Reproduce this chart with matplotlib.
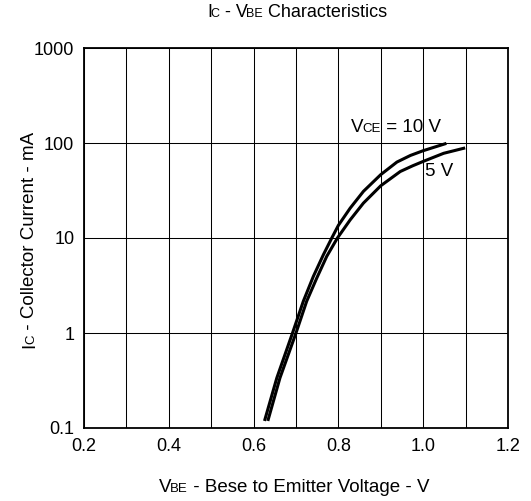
import numpy as np
import matplotlib
matplotlib.use("Agg")
import matplotlib.pyplot as plt
from matplotlib.transforms import IdentityTransform

plt.rcParams['font.family'] = ['Liberation Sans', 'DejaVu Sans']

# curves (V_BE in V, I_C in mA)
vbe_10v = [0.6267, 0.6548, 0.6918, 0.7173, 0.741, 0.7646, 0.7844, 0.8, 0.8277,
           0.8591, 0.9, 0.938, 0.97, 1.0, 1.0513]
ic_10v = [0.123, 0.337, 1.0, 2.16, 3.95, 6.67, 10.0, 13.6, 20.6, 31.0, 46.5, 63.0,
          74.0, 83.0, 98.0]
vbe_5v = [0.6345, 0.6622, 0.7, 0.7252, 0.749, 0.7725, 0.7977, 0.8277, 0.859, 0.9,
          0.9459, 0.975, 1.0, 1.0482, 1.0955]
ic_5v = [0.123, 0.337, 1.0, 2.16, 3.79, 6.41, 10.0, 15.5, 23.3, 35.5, 50.1, 57.5,
         64.0, 77.9, 88.0]

x_ticks = [0.2, 0.4, 0.6, 0.8, 1.0, 1.2]
x_grid = [0.3, 0.5, 0.7, 0.9, 1.1]
y_ticks = [0.1, 1, 10, 100, 1000]
y_labels = ['0.1', '1', '10', '100', '1000']

W, H = 531, 501
fig = plt.figure(figsize=(W / 100, H / 100), dpi=100)
ax = fig.add_axes([84 / W, (H - 428) / H, (508 - 84) / W, (428 - 48) / H])

ax.plot(vbe_10v, ic_10v, color='black', lw=2.2)
ax.plot(vbe_5v, ic_5v, color='black', lw=2.2)

ax.set_yscale('log')
ax.set_xlim(0.2, 1.2)
ax.set_ylim(0.1, 1000)
ax.set_xticks(x_ticks)
ax.set_xticklabels(['%.1f' % v for v in x_ticks])
ax.set_xticks(x_grid, minor=True)
ax.set_yticks(y_ticks)
ax.set_yticklabels(y_labels)
ax.yaxis.set_minor_locator(matplotlib.ticker.NullLocator())
ax.tick_params(which='both', length=0, labelsize=13, pad=7)
ax.grid(True, which='both', axis='x', color='black', lw=0.75)
ax.grid(True, which='major', axis='y', color='black', lw=0.75)
for sp in ax.spines.values():
    sp.set_linewidth(1.3)

fig.canvas.draw()
renderer = fig.canvas.get_renderer()


def piece_len(s, size, rotation):
    t1 = fig.text(0, 0, 'x' + s + 'x', fontsize=size, rotation=rotation)
    t2 = fig.text(0, 0, 'xx', fontsize=size, rotation=rotation)
    b1 = t1.get_window_extent(renderer)
    b2 = t2.get_window_extent(renderer)
    t1.remove()
    t2.remove()
    if rotation:
        return b1.height - b2.height
    return b1.width - b2.width


def rich_text(cx, cy, parts, rotation=0):
    # parts: (text, size, kern before in px); baseline at cy (or at x=cx if rotated)
    lens = [piece_len(s, sz, rotation) - k for s, sz, k in parts]
    pos = -sum(lens) / 2
    for (s, sz, k), L in zip(parts, lens):
        pos -= k
        if rotation:
            x, y = cx, H - cy + pos
        else:
            x, y = cx + pos, H - cy
        fig.text(x, y, s, fontsize=sz, rotation=rotation, rotation_mode='anchor',
                 ha='left', va='baseline', transform=IdentityTransform())
        pos += L + k


big, small = 13.5, 9.5
kn = 1.5
rich_text(297, 17, [('I', 13, 0), ('C', 9, kn), (' - V', 13, 0), ('BE', 9, kn),
                    (' Characteristics', 13, 0)])
rich_text(294, 492, [('V', big, 0), ('BE', small, kn),
                     (' - Bese to Emitter Voltage - V', big, 0)])
rich_text(34, 240, [('I', big, 0), ('C', small, kn),
                    (' - Collector Current - mA', big, 0)], rotation=90)

rich_text(396, 132, [('V', big, 0), ('CE', small, kn), (' = 10 V', big, 0)])
rich_text(439, 176, [('5 V', big, 0)])

fig.savefig('out.png', dpi=100)
